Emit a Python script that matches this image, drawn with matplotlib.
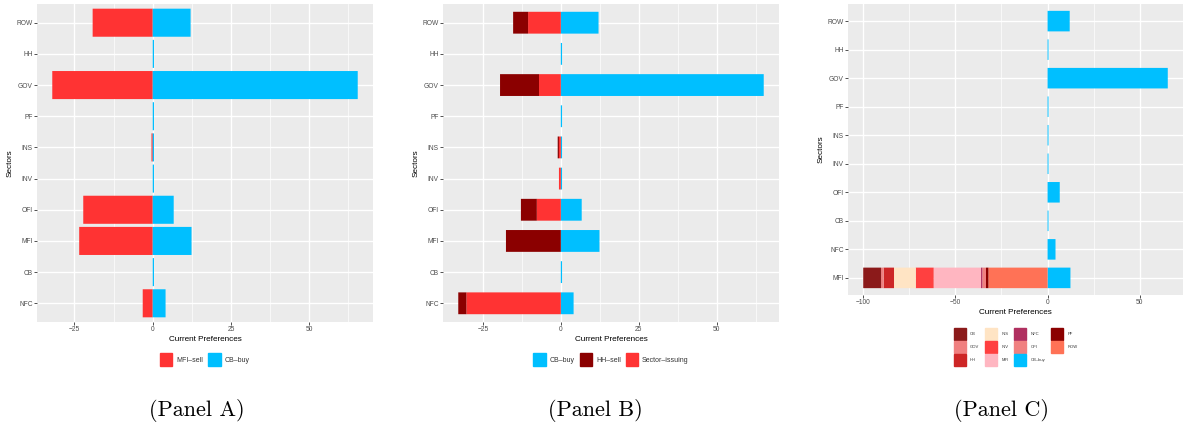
import matplotlib
matplotlib.use('Agg')
import matplotlib.pyplot as plt
from matplotlib.patches import Patch

plt.rcParams['font.family'] = ['Liberation Sans', 'DejaVu Sans']

# ---------------- data ----------------
# Panel A (bottom to top)
sectors_A = ['NFC', 'CB', 'MFI', 'OFI', 'INV', 'INS', 'PF', 'GOV', 'HH', 'ROW']
A_mfi_sell = [-3.2, 0.0, -23.5, -22.2, 0.0, -0.4, 0.0, -32.1, 0.0, -19.2]
A_cb_buy = [4.1, 0.4, 12.4, 6.7, 0.4, 0.4, 0.4, 65.5, 0.4, 12.1]

# Panel B (bottom to top)
sectors_B = ['NFC', 'CB', 'MFI', 'OFI', 'INV', 'INS', 'PF', 'GOV', 'HH', 'ROW']
B_cb_buy = [4.1, 0.4, 12.4, 6.7, 0.4, 0.4, 0.4, 65.1, 0.4, 12.1]
B_sector_issuing = [-30.3, 0.0, 0.0, -7.7, -0.6, -0.6, 0.0, -7.0, 0.0, -10.5]
B_hh_sell = [-2.6, 0.0, -17.6, -5.1, 0.0, -0.4, 0.0, -12.5, 0.0, -4.8]

# Panel C (bottom to top)
sectors_C = ['MFI', 'NFC', 'CB', 'OFI', 'INV', 'INS', 'PF', 'GOV', 'HH', 'ROW']
C_cb_buy = [12.4, 4.3, 0.5, 6.6, 0.5, 0.5, 0.5, 65.2, 0.5, 12.0]
C_holders = ['CB', 'GOV', 'HH', 'INS', 'INV', 'MFI', 'NFC', 'OFI', 'PF', 'ROW']
C_mfi_sell = [9.7, 1.4, 5.6, 11.8, 9.7, 25.7, 0.7, 2.0, 1.3, 32.1]
C_colors = ['#8B1A1A', '#F08080', '#CD2626', '#FFE4C4', '#FF4040',
            '#FFB6C1', '#B03060', '#F08080', '#8B0000', '#FF7256']

BLUE = '#00BFFF'
RED = '#FF3333'
DARKRED = '#8B0000'

# ---------------- figure ----------------
W, H = 1183, 429
fig = plt.figure(figsize=(W / 100, H / 100), dpi=100)


def add_ax(x0, y0, x1, y1):
    return fig.add_axes([x0 / W, 1 - y1 / H, (x1 - x0) / W, (y1 - y0) / H])


def bars(ax, y, vals, left=None, height=0.9, color=BLUE):
    ys = [yy for yy, v in zip(y, vals) if v != 0]
    ls = None
    if left is not None:
        ls = [l for l, v in zip(left, vals) if v != 0]
    vs = [v for v in vals if v != 0]
    ax.barh(ys, vs, left=ls, height=height, color=color, linewidth=0, snap=False)


def style(ax, cats, major, minor, lo, hi):
    span = hi - lo
    ax.set_facecolor('#EBEBEB')
    ax.set_xlim(lo - 0.05 * span, hi + 0.05 * span)
    ax.set_ylim(-0.6, len(cats) - 0.4)
    ax.set_yticks(range(len(cats)))
    ax.set_yticklabels(cats)
    ax.set_xticks(major)
    ax.set_xticks(minor, minor=True)
    ax.grid(which='major', color='white', lw=1.0)
    ax.grid(which='minor', axis='x', color='white', lw=0.5)
    ax.set_axisbelow(True)
    for s in ax.spines.values():
        s.set_visible(False)
    ax.tick_params(which='major', length=2, width=0.6, color='#333333',
                   labelsize=4.8, labelcolor='#4D4D4D', pad=1.2)
    ax.tick_params(which='minor', length=0)
    ax.set_xlabel('Current Preferences', fontsize=5.9, labelpad=2, color='black')
    ax.set_ylabel('Sectors', fontsize=5.9, labelpad=2, color='black')


# Panel A
axA = add_ax(37, 4, 373, 322)
yA = list(range(len(sectors_A)))
bars(axA, yA, A_mfi_sell, height=0.9, color=RED)
bars(axA, yA, A_cb_buy, height=0.9, color=BLUE)
style(axA, sectors_A, [-25, 0, 25, 50], [-12.5, 12.5, 37.5, 62.5],
      min(A_mfi_sell), max(A_cb_buy))
axA.legend(handles=[Patch(color=RED, label='MFI–sell'), Patch(color=BLUE, label='CB–buy')],
           loc='center', bbox_to_anchor=(0.5, -0.118), ncol=2, frameon=False,
           fontsize=5, handlelength=1.75, handleheight=2.35, handletextpad=0.6,
           columnspacing=0.7, labelcolor='#333333')

# Panel B
axB = add_ax(443, 4, 779, 322)
yB = list(range(len(sectors_B)))
bars(axB, yB, B_cb_buy, height=0.7, color=BLUE)
bars(axB, yB, B_sector_issuing, height=0.7, color=RED)
bars(axB, yB, B_hh_sell, left=B_sector_issuing, height=0.7, color=DARKRED)
lowB = min(a + b for a, b in zip(B_sector_issuing, B_hh_sell))
style(axB, sectors_B, [-25, 0, 25, 50], [-12.5, 12.5, 37.5, 62.5], lowB, max(B_cb_buy))
axB.legend(handles=[Patch(color=BLUE, label='CB–buy'), Patch(color=DARKRED, label='HH–sell'),
                    Patch(color=RED, label='Sector–issuing')],
           loc='center', bbox_to_anchor=(0.5, -0.118), ncol=3, frameon=False,
           fontsize=5, handlelength=1.75, handleheight=2.35, handletextpad=0.6,
           columnspacing=0.7, labelcolor='#333333')

# Panel C
axC = add_ax(848, 4, 1183, 295)
yC = list(range(len(sectors_C)))
bars(axC, yC, C_cb_buy, height=0.72, color=BLUE)
mfi_row = sectors_C.index('MFI')
left = 0.0
for name, val, col in reversed(list(zip(C_holders, C_mfi_sell, C_colors))):
    left -= val
    axC.barh([mfi_row], [val], left=[left], height=0.72, color=col, linewidth=0, snap=False)
style(axC, sectors_C, [-100, -50, 0, 50], [-75, -25, 25], left, max(C_cb_buy))
handlesC = [Patch(color=c, label=n) for n, c in zip(C_holders, C_colors)]
handlesC.insert(8, Patch(color=BLUE, label='CB–buy'))
axC.legend(handles=handlesC, loc='center', bbox_to_anchor=(0.5, -0.179), ncol=4,
           frameon=False, fontsize=3, handlelength=2.9, handleheight=4.05,
           handletextpad=1.0, columnspacing=1.4, labelspacing=0.24,
           labelcolor='#333333')

# Panel labels
for x, t in [(197, '(Panel A)'), (595, '(Panel B)'), (1001, '(Panel C)')]:
    fig.text(x / W, 1 - 410 / H, t, ha='center', va='center', fontsize=16, family='cmr10')

fig.savefig('out.png', dpi=100)
